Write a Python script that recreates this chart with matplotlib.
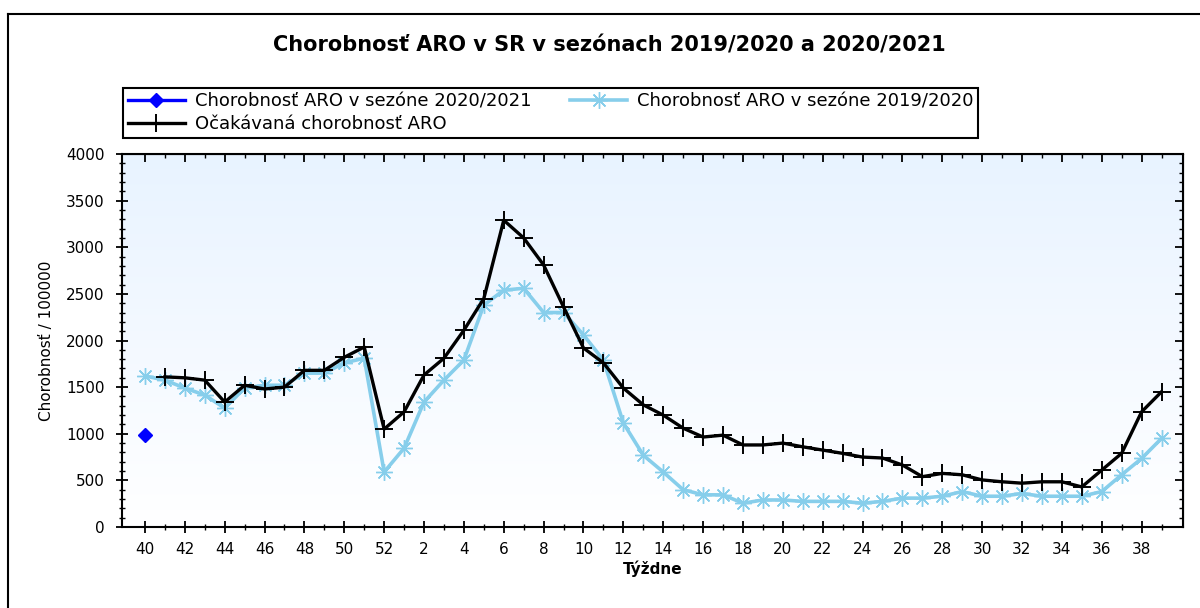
import numpy as np
import matplotlib
matplotlib.use('Agg')
import matplotlib.pyplot as plt
from matplotlib.lines import Line2D
from matplotlib.ticker import MultipleLocator

plt.rcParams['font.family'] = ['DejaVu Sans']

# tyzdne sezony (40..52, 1..39)
weeks = list(range(40, 53)) + list(range(1, 40))

# chorobnost v sezone 2019/2020
season_1920 = [1620, 1575, 1490, 1415, 1275, 1490, 1520, 1520, 1650, 1650, 1760, 1810, 590,
               845, 1340, 1575, 1790, 2380, 2540, 2560, 2300, 2300, 2060, 1790, 1115, 770,
               590, 400, 345, 345, 255, 290, 290, 275, 275, 275, 255, 275, 310, 310,
               330, 380, 330, 330, 360, 330, 330, 330, 380, 560, 735, 950]

# ocakavana chorobnost (od 41. tyzdna)
expected = [np.nan, 1610, 1600, 1575, 1340, 1520, 1480, 1500, 1680, 1680, 1820, 1930, 1050,
            1235, 1630, 1810, 2110, 2450, 3290, 3100, 2810, 2360, 1920, 1760, 1490, 1310,
            1200, 1060, 965, 985, 880, 880, 900, 860, 825, 790, 750, 740, 665, 540,
            575, 560, 505, 485, 470, 485, 485, 430, 610, 790, 1235, 1450]

# sezona 2020/2021 - zatial len 40. tyzden
season_2021 = [990]

x = np.arange(len(weeks))

fig = plt.figure(figsize=(12, 6.08), dpi=100)
ax = fig.add_axes([0.1017, 0.1332, 0.8845, 0.6135])

# gradient pozadia
grad = np.linspace(0, 1, 256).reshape(-1, 1)
top = np.array([0.91, 0.953, 1.0])
bot = np.array([1.0, 1.0, 1.0])
img = top * (1 - grad)[:, :, None] + bot * grad[:, :, None]
ax.imshow(img, extent=[0, 1, 0, 1], transform=ax.transAxes, aspect='auto', zorder=0)

lb_color = '#87ceeb'
ax.plot(x, season_1920, color=lb_color, lw=2.6, marker=(8, 2, 0), ms=12, mew=1.0, zorder=3)
ax.plot(x, expected, color='black', lw=2.4, marker='+', ms=13, mew=1.4, zorder=4)
ax.plot(x[:len(season_2021)], season_2021, color='blue', lw=2.4, marker='D', ms=7, zorder=5)

ax.set_xlim(-1.15, 52.1)
ax.set_ylim(0, 4000)
ax.set_xticks(x[::2])
ax.set_xticklabels([str(w) for w in weeks[::2]], fontsize=11)
ax.set_xticks(x, minor=True)
ax.yaxis.set_major_locator(MultipleLocator(500))
ax.yaxis.set_minor_locator(MultipleLocator(100))
for lbl in ax.get_yticklabels():
    lbl.set_fontsize(11)
ax.tick_params(axis='both', which='major', direction='inout', length=9, width=1.3)
ax.tick_params(axis='both', which='minor', direction='inout', length=5, width=1.0)
ax.tick_params(axis='x', which='both', pad=6)
ax.tick_params(axis='y', which='both', pad=8)
for sp in ax.spines.values():
    sp.set_linewidth(1.5)

# horne a prave ticky smeruju dnu
top_ax = ax.secondary_xaxis('top')
top_ax.set_xticks(x[::2])
top_ax.set_xticks(x, minor=True)
top_ax.tick_params(which='major', direction='in', length=6, width=1.3, labeltop=False)
top_ax.tick_params(which='minor', direction='in', length=3, width=1.0)
right_ax = ax.secondary_yaxis('right')
right_ax.yaxis.set_major_locator(MultipleLocator(500))
right_ax.yaxis.set_minor_locator(MultipleLocator(100))
right_ax.tick_params(which='major', direction='in', length=6, width=1.3, labelright=False)
right_ax.tick_params(which='minor', direction='in', length=3, width=1.0)

ax.set_xlabel('Týždne', fontsize=11, fontweight='bold', labelpad=3)
ax.set_ylabel('Chorobnosť / 100000', fontsize=11, labelpad=9)

fig.text(0.508, 0.925, 'Chorobnosť ARO v SR v sezónach 2019/2020 a 2020/2021',
         ha='center', va='center', fontsize=15, fontweight='bold')

handles = [
    Line2D([], [], color='blue', lw=2.4, marker='D', ms=7),
    Line2D([], [], color='black', lw=2.4, marker='+', ms=13, mew=1.4),
    Line2D([], [], color=lb_color, lw=2.6, marker=(8, 2, 0), ms=12),
]
labels = ['Chorobnosť ARO v sezóne 2020/2021', 'Očakávaná chorobnosť ARO',
          'Chorobnosť ARO v sezóne 2019/2020']
leg = fig.legend(handles, labels, ncol=2, loc='upper left',
                 bbox_to_anchor=(123 / 1200, 1 - 88 / 608),
                 borderaxespad=0, fancybox=False, framealpha=1, edgecolor='black',
                 fontsize=13, handlelength=3.2, columnspacing=2.1, labelspacing=0.25,
                 borderpad=0.25, handletextpad=0.55)
leg.get_frame().set_linewidth(1.5)

# ram okolo obrazka
fig.add_artist(Line2D([8 / 1200, 8 / 1200], [0, 1 - 14 / 608], transform=fig.transFigure,
                      color='black', lw=1.5))
fig.add_artist(Line2D([8 / 1200, 1], [1 - 14 / 608, 1 - 14 / 608], transform=fig.transFigure,
                      color='black', lw=1.5))

fig.savefig('out.png', dpi=100)
